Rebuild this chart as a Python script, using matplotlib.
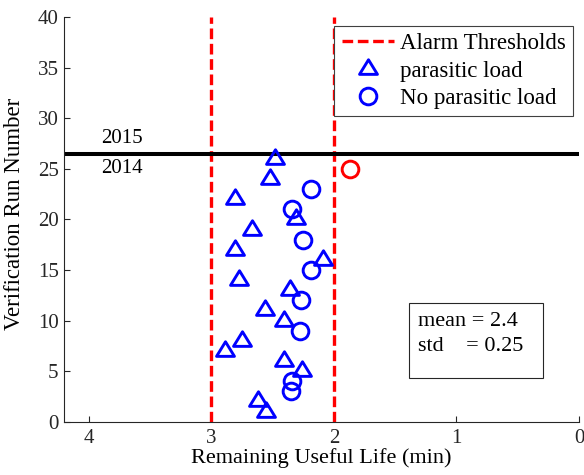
import numpy as np
import matplotlib
matplotlib.use('Agg')
from matplotlib import pyplot as plt
from matplotlib.path import Path
from matplotlib.patches import Rectangle

plt.rcParams['font.family'] = ['Liberation Serif', 'DejaVu Serif']

# run number / remaining useful life
para_runs = [1, 2, 5, 6, 7, 8, 10, 11, 13, 14, 16, 17, 19, 20, 22, 24, 26]
para_rul = [2.55, 2.62, 2.26, 2.41, 2.89, 2.75, 2.41, 2.56, 2.36, 2.77,
            2.09, 2.81, 2.67, 2.31, 2.81, 2.52, 2.48]
nopara_runs = [3, 4, 9, 12, 15, 18, 21, 23]
nopara_rul = [2.35, 2.34, 2.28, 2.27, 2.19, 2.25, 2.34, 2.19]
alarm_runs = [25]
alarm_rul = [1.865]
thresholds = [3, 2]
year_split = 26.5

# MATLAB style triangle, centred on its centroid
tri = Path([(0, 1), (-0.92, -0.5), (0.92, -0.5), (0, 1)],
           [Path.MOVETO, Path.LINETO, Path.LINETO, Path.CLOSEPOLY])

fig = plt.figure(dpi=100, figsize=(5.84, 4.75))
ax = fig.add_axes([0.110, 0.1122, 0.8814, 0.8514])

th = None
for t in thresholds:
    th, = ax.plot([t, t], [0, 40], color='red', lw=2.4, dashes=(3.2, 1.4),
                  label='Alarm Thresholds', zorder=2)
ax.axhline(year_split, color='black', lw=2.9, zorder=2)

p, = ax.plot(para_rul, para_runs, linestyle='none', marker=tri, ms=14,
             mfc='none', mec='blue', mew=2.1, label='parasitic load', zorder=3)
n, = ax.plot(nopara_rul, nopara_runs, linestyle='none', marker='o', ms=12,
             mfc='none', mec='blue', mew=2.1, label='No parasitic load', zorder=3)
ax.plot(alarm_rul, alarm_runs, linestyle='none', marker='o', ms=12,
        mfc='none', mec='red', mew=2.1, zorder=3)

ax.text(3.73, 28, '2015', ha='center', va='center', fontsize=15)
ax.text(3.73, 25, '2014', ha='center', va='center', fontsize=15)

ax.set_xlim(4.2, 0)
ax.set_ylim(0, 40)
ax.set_xticks([4, 3, 2, 1, 0])
ax.set_yticks(np.arange(0, 41, 5))
ax.tick_params(axis='both', direction='in', length=4, width=0.8,
               labelsize=15, colors='#262626')
ax.tick_params(axis='x', pad=5)
ax.tick_params(axis='y', pad=4)
for s in ['top', 'right']:
    ax.spines[s].set_visible(False)
for s in ['left', 'bottom']:
    ax.spines[s].set_color('#262626')
    ax.spines[s].set_linewidth(0.8)

ax.set_xlabel('Remaining Useful Life (min)', fontsize=16, labelpad=0)
ax.set_ylabel('Verification Run Number', fontsize=16.5)
ax.yaxis.set_label_coords(-0.076, 0.514)

leg = ax.legend(handles=[th, p, n], loc='upper right',
                bbox_to_anchor=(0.989, 0.9785), borderaxespad=0,
                fontsize=16.5, fancybox=False, framealpha=1,
                edgecolor='#404040', handlelength=2.3, handletextpad=0.25,
                labelspacing=0.27, borderpad=0.32)
leg.get_frame().set_linewidth(0.8)

ax.add_patch(Rectangle((0.670, 0.107), 0.261, 0.186, transform=ax.transAxes,
                       fill=False, edgecolor='#262626', lw=0.8))
ax.text(0.6875, 0.249, 'mean = 2.4', transform=ax.transAxes,
        va='center', ha='left', fontsize=16)
ax.text(0.6875, 0.187, 'std    = 0.25', transform=ax.transAxes,
        va='center', ha='left', fontsize=16)

fig.savefig('out.png', dpi=100)
